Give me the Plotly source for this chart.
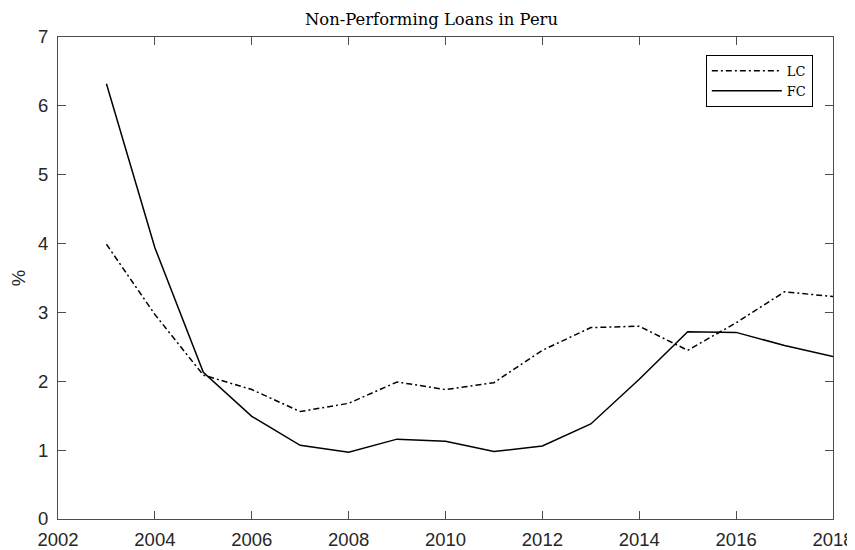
import plotly.graph_objects as go

years = list(range(2003, 2019))
lc = [3.99, 2.97, 2.09, 1.88, 1.56, 1.68, 1.99, 1.88, 1.98, 2.45, 2.78, 2.80, 2.45, 2.85, 3.30, 3.23]
fc = [6.32, 3.94, 2.13, 1.49, 1.07, 0.97, 1.16, 1.13, 0.98, 1.06, 1.38, 2.03, 2.72, 2.71, 2.52, 2.36]

title_text = "Non-Performing Loans in Peru"
ylabel = "%"
xticks = list(range(2002, 2019, 2))
yticks = list(range(0, 8))

fig = go.Figure()
fig.add_trace(go.Scatter(x=years, y=lc, mode="lines", name="LC",
                         line=dict(color="black", width=1.5, dash="6px,3px,2px,3px")))
fig.add_trace(go.Scatter(x=years, y=fc, mode="lines", name="FC",
                         line=dict(color="black", width=1.5)))

axis_common = dict(showline=True, linecolor="#4d4d4d", linewidth=1, mirror="ticks",
                   ticks="inside", ticklen=8, tickcolor="#4d4d4d", showgrid=False,
                   zeroline=False, automargin=False,
                   tickfont=dict(family="Liberation Sans", size=18.5, color="#262626"))

# page body has an 8px default margin, so the figure is sized to fit the 855x550 window
fig.update_layout(
    width=847, height=542,
    margin=dict(l=50, r=22, t=29, b=31),
    paper_bgcolor="white", plot_bgcolor="white",
    title=dict(text=title_text, x=0.5, xanchor="center", xref="container",
               y=0.979, yanchor="middle", automargin=False,
               font=dict(family="DejaVu Serif", size=16.4, color="black")),
    xaxis=dict(range=[2002, 2018], tickvals=xticks, ticklabelstandoff=4, **axis_common),
    yaxis=dict(range=[0, 7], tickvals=yticks, ticklabelstandoff=5,
               title=dict(text=ylabel, standoff=11,
                          font=dict(family="Liberation Sans", size=18.5, color="#262626")),
               **axis_common),
    legend=dict(x=0.974, y=0.963, xanchor="right", yanchor="top",
                bordercolor="black", borderwidth=1, bgcolor="white",
                font=dict(family="DejaVu Serif", size=13, color="black"),
                tracegroupgap=0, itemwidth=70),
    showlegend=True,
)

fig.write_html("out.html")
